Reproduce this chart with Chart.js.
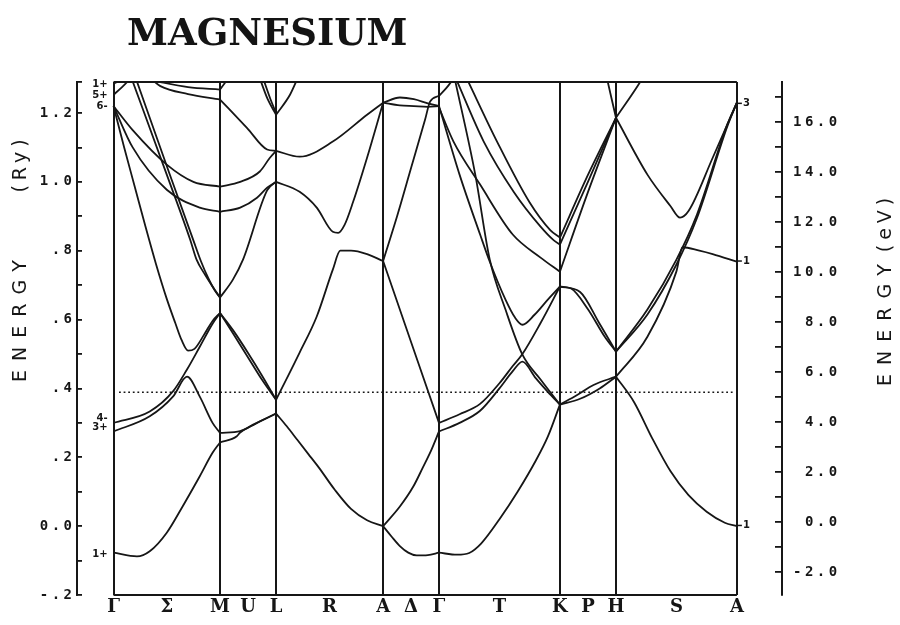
<!DOCTYPE html>
<html>
<head>
<meta charset="utf-8">
<title>Magnesium band structure</title>
<script src="https://cdn.jsdelivr.net/npm/chart.js@4.4.0/dist/chart.umd.min.js"></script>
<style>
  body { margin: 0; background: #fff; }
  #wrap { position: relative; width: 900px; height: 625px; }
  #title {
    position: absolute; left: 127px; top: 10px;
    font: bold 37px "DejaVu Serif"; letter-spacing: 0; color: #141414;
  }
</style>
</head>
<body>
<div id="wrap">
  <canvas id="bands" width="900" height="625"></canvas>
  <div id="title">MAGNESIUM</div>
</div>
<script>
// symmetry points along the k-path and their path distance
const symLabels = ['Γ', 'M', 'L', 'A', 'Γ', 'K', 'H', 'A'];
const symDist = [0, 0.583, 0.890, 1.476, 1.782, 2.444, 2.751, 3.413];
const lineLabels = ['Σ', 'U', 'R', 'Δ', 'T', 'P', 'S'];

const ryTicks = [-0.2, 0, 0.2, 0.4, 0.6, 0.8, 1.0, 1.2];
const ryTickText = ['-.2', '0.0', '.2', '.4', '.6', '.8', '1.0', '1.2'];
const evTicks = [-2, 0, 2, 4, 6, 8, 10, 12, 14, 16];
const evTickText = ['-2.0', ' 0.0', ' 2.0', ' 4.0', ' 6.0', ' 8.0', '10.0', '12.0', '14.0', '16.0'];

const fermiRy = 0.389;

// irreducible representations at Γ and A
const gammaStates = ['1+', '5+', '6-', '4-', '3+', '1+'];
const gammaRy = [1.282, 1.250, 1.219, 0.314, 0.288, -0.082];
const aStates = ['3', '1', '1'];
const aRy = [1.228, 0.770, 0.002];

// bands per segment: [fraction along segment, energy in Ry]
const bandsGM = [
  [[0, -0.077], [0.22, -0.088], [0.34, -0.073], [0.5, -0.019], [0.65, 0.058], [0.81, 0.145], [0.93, 0.213], [1, 0.243]],
  [[0, 0.275], [0.34, 0.319], [0.56, 0.377], [0.69, 0.434], [0.81, 0.376], [0.93, 0.30], [1, 0.271]],
  [[0, 0.30], [0.34, 0.333], [0.56, 0.392], [0.69, 0.455], [0.81, 0.521], [0.93, 0.588], [1, 0.619]],
  [[0, 1.22], [0.1, 1.10], [0.2, 0.985], [0.3, 0.87], [0.4, 0.76], [0.5, 0.66], [0.58, 0.59], [0.64, 0.54], [0.7, 0.51], [0.76, 0.515], [0.85, 0.556], [0.93, 0.596], [1, 0.619]],
  [[0.17, 1.30], [0.5, 1.021], [0.72, 0.832], [0.78, 0.774], [0.86, 0.73], [0.93, 0.696], [1, 0.664]],
  [[0.21, 1.30], [0.53, 1.02], [0.75, 0.83], [0.82, 0.77], [0.89, 0.72], [0.95, 0.685], [1, 0.664]],
  [[0, 1.22], [0.18, 1.15], [0.5, 1.05], [0.75, 1.0], [1, 0.986]],
  [[0, 1.22], [0.18, 1.10], [0.5, 0.977], [0.81, 0.925], [1, 0.913]],
  [[0.3, 1.30], [0.44, 1.29], [0.7, 1.275], [1, 1.268]],
  [[0.35, 1.30], [0.44, 1.278], [0.7, 1.255], [1, 1.239]],
  [[0, 1.253], [0.08, 1.275], [0.16, 1.30]],
  [[0, 1.285], [0.1, 1.30]]
];

const bandsML = [
  [[0, 0.243], [0.3, 0.261], [0.36, 0.272], [0.62, 0.296], [1, 0.327]],
  [[0, 0.271], [0.36, 0.276], [0.62, 0.297], [1, 0.327]],
  [[0, 0.619], [0.25, 0.555], [0.5, 0.49], [0.75, 0.425], [1, 0.367]],
  [[0, 0.619], [0.25, 0.565], [0.5, 0.503], [0.75, 0.437], [1, 0.367]],
  [[0, 0.664], [0.23, 0.716], [0.41, 0.774], [0.84, 0.975], [1, 1.0]],
  [[0, 0.986], [0.36, 1.0], [0.71, 1.03], [0.89, 1.07], [1, 1.09]],
  [[0, 0.913], [0.36, 0.925], [0.66, 0.954], [0.84, 0.983], [1, 1.0]],
  [[0, 1.239], [0.48, 1.157], [0.84, 1.094], [1, 1.09]],
  [[0, 1.268], [0.1, 1.29], [0.2, 1.31]],
  [[0.71, 1.30], [0.85, 1.24], [1, 1.195]],
  [[0.77, 1.30], [0.9, 1.24], [1, 1.2]]
];

const bandsLA = [
  [[0, 0.327], [0.1, 0.29], [0.2, 0.25], [0.3, 0.21], [0.4, 0.17], [0.55, 0.105], [0.7, 0.05], [0.85, 0.017], [1, 0.0]],
  [[0, 0.367], [0.22, 0.504], [0.38, 0.609], [0.53, 0.745], [0.6, 0.80], [0.7, 0.80], [0.85, 0.79], [1, 0.77]],
  [[0, 1.0], [0.22, 0.971], [0.38, 0.925], [0.53, 0.855], [0.58, 0.852], [0.64, 0.875], [0.72, 0.942], [0.85, 1.07], [1, 1.23]],
  [[0, 1.09], [0.22, 1.073], [0.53, 1.117], [0.85, 1.195], [1, 1.23]],
  [[0, 1.195], [0.13, 1.253], [0.2, 1.30]]
];

const bandsAG = [
  [[0, 0.0], [0.15, -0.03], [0.3, -0.058], [0.45, -0.077], [0.6, -0.085], [0.8, -0.084], [1, -0.077]],
  [[0, 0.0], [0.3, 0.057], [0.54, 0.115], [0.71, 0.17], [0.86, 0.22], [1, 0.275]],
  [[0, 0.77], [0.5, 0.535], [1, 0.30]],
  [[0, 0.77], [0.25, 0.90], [0.5, 1.04], [0.75, 1.18], [0.84, 1.233], [1, 1.25]],
  [[0, 1.23], [0.3, 1.245], [0.55, 1.24], [0.8, 1.228], [1, 1.22]],
  [[0, 1.23], [0.3, 1.222], [0.55, 1.22], [0.8, 1.218], [1, 1.22]]
];

const bandsGK = [
  [[0, -0.077], [0.15, -0.083], [0.25, -0.078], [0.35, -0.05], [0.5, 0.02], [0.65, 0.1], [0.8, 0.19], [0.9, 0.26], [1, 0.353]],
  [[0, 0.275], [0.17, 0.30], [0.34, 0.335], [0.5, 0.40], [0.61, 0.45], [0.69, 0.478], [0.8, 0.43], [0.9, 0.39], [1, 0.353]],
  [[0, 0.30], [0.17, 0.325], [0.34, 0.355], [0.5, 0.415], [0.61, 0.465], [0.69, 0.50], [0.84, 0.59], [1, 0.696]],
  [[0, 1.22], [0.17, 1.021], [0.34, 0.847], [0.42, 0.768], [0.55, 0.658], [0.63, 0.605], [0.69, 0.585], [0.79, 0.614], [0.9, 0.658], [1, 0.696]],
  [[0.13, 1.30], [0.3, 1.021], [0.42, 0.774], [0.55, 0.629], [0.69, 0.498], [0.84, 0.426], [1, 0.353]],
  [[0, 1.216], [0.12, 1.117], [0.34, 0.992], [0.61, 0.847], [0.84, 0.78], [1, 0.739]],
  [[0.14, 1.30], [0.37, 1.117], [0.62, 0.97], [0.84, 0.87], [0.95, 0.83], [1, 0.818]],
  [[0.23, 1.30], [0.48, 1.117], [0.75, 0.94], [0.92, 0.86], [1, 0.838]],
  [[0, 1.25], [0.06, 1.272], [0.12, 1.30]]
];

const bandsKH = [
  [[0, 0.353], [0.36, 0.37], [0.71, 0.40], [1, 0.434]],
  [[0, 0.353], [0.3, 0.38], [0.6, 0.41], [1, 0.434]],
  [[0, 0.696], [0.36, 0.68], [0.7, 0.59], [1, 0.507]],
  [[0, 0.696], [0.2, 0.69], [0.5, 0.63], [0.8, 0.55], [1, 0.507]],
  [[0, 0.838], [0.5, 1.02], [1, 1.186]],
  [[0, 0.818], [0.5, 1.0], [1, 1.186]],
  [[0, 0.739], [0.5, 0.97], [1, 1.186]],
  [[0.84, 1.30], [1, 1.186]]
];

const bandsHA = [
  [[0, 1.186], [0.2, 1.29], [0.25, 1.32]],
  [[0, 1.186], [0.26, 1.021], [0.45, 0.93], [0.53, 0.896], [0.6, 0.915], [0.8, 1.07], [1, 1.23]],
  [[0, 0.507], [0.26, 0.629], [0.5, 0.774], [0.67, 0.905], [0.92, 1.166], [1, 1.23]],
  [[0, 0.507], [0.26, 0.615], [0.5, 0.76], [0.67, 0.895], [0.92, 1.16], [1, 1.23]],
  [[0, 0.434], [0.26, 0.55], [0.5, 0.74], [0.55, 0.81], [0.69, 0.80], [0.8, 0.79], [1, 0.768]],
  [[0, 0.434], [0.15, 0.36], [0.3, 0.255], [0.45, 0.16], [0.6, 0.09], [0.75, 0.042], [0.9, 0.01], [1, 0.0]]
];

const segments = [bandsGM, bandsML, bandsLA, bandsAG, bandsGK, bandsKH, bandsHA];

const ink = '#161616';

const datasets = [];
segments.forEach((bands, s) => {
  const x0 = symDist[s], x1 = symDist[s + 1];
  bands.forEach(band => {
    datasets.push({
      data: band.map(([t, e]) => ({ x: x0 + t * (x1 - x0), y: e })),
      borderColor: ink,
      borderWidth: 1.8,
      pointRadius: 0,
      cubicInterpolationMode: 'monotone'
    });
  });
});

// Fermi level
datasets.push({
  data: [{ x: symDist[0] + 0.03, y: fermiRy }, { x: symDist[symDist.length - 1] - 0.01, y: fermiRy }],
  borderColor: ink,
  borderWidth: 1.6,
  borderDash: [1.8, 2.8],
  pointRadius: 0
});

// x ticks: symmetry points with the line names between them
const tickPos = [];
const tickNames = [];
symDist.forEach((d, i) => {
  tickPos.push(d);
  tickNames.push(symLabels[i]);
  if (i < lineLabels.length) {
    tickPos.push((d + symDist[i + 1]) / 2);
    tickNames.push(lineLabels[i]);
  }
});

function pickLabel(values, texts, v) {
  const i = values.findIndex(t => Math.abs(t - v) < 1e-6);
  return i < 0 ? '' : texts[i];
}

const axisFont = { family: 'DejaVu Sans Mono', weight: 'bold', size: 14 };

// wide plotter-style spacing for the axis numbers
const spacing = {
  id: 'spacing',
  beforeDraw(chart) { chart.ctx.letterSpacing = '3.5px'; },
  beforeDatasetsDraw(chart) { chart.ctx.letterSpacing = '0px'; }
};

// rotated axis titles: [text, centre x, centre y, letter spacing]
const axisTitles = [
  ['ENERGY', 21, 321, 9], ['(Ry)', 21, 166, 5],
  ['ENERGY', 886, 325, 9], ['(eV)', 886, 225, 5]
];

const decor = {
  id: 'decor',
  afterDraw(chart) {
    const { ctx, scales: { x, y } } = chart;
    const left = x.getPixelForValue(symDist[0]);
    const right = x.getPixelForValue(symDist[symDist.length - 1]);
    const top = y.getPixelForValue(y.max);
    const bottom = y.getPixelForValue(y.min);
    ctx.save();
    ctx.strokeStyle = ink;
    ctx.lineWidth = 2;
    ctx.beginPath();
    ctx.moveTo(left, top); ctx.lineTo(right, top);
    ctx.moveTo(left, bottom); ctx.lineTo(right, bottom);
    ctx.stroke();

    ctx.fillStyle = ink;
    ctx.font = 'bold 10px "DejaVu Sans"';
    ctx.textBaseline = 'middle';
    ctx.textAlign = 'right';
    gammaStates.forEach((s, i) => ctx.fillText(s, left - 6, y.getPixelForValue(gammaRy[i])));
    ctx.textAlign = 'left';
    ctx.lineWidth = 1.5;
    aStates.forEach((s, i) => {
      const py = y.getPixelForValue(aRy[i]);
      ctx.beginPath(); ctx.moveTo(right, py); ctx.lineTo(right + 5, py); ctx.stroke();
      ctx.fillText(s, right + 6, py);
    });

    ctx.font = '19px "DejaVu Sans"';
    ctx.textAlign = 'center';
    axisTitles.forEach(([txt, tx, ty, ls]) => {
      ctx.save();
      ctx.letterSpacing = ls + 'px';
      ctx.translate(tx, ty);
      ctx.rotate(-Math.PI / 2);
      ctx.fillText(txt, ls / 2, 0);
      ctx.restore();
    });
    ctx.restore();
  }
};

new Chart(document.getElementById('bands'), {
  type: 'line',
  data: { datasets },
  plugins: [spacing, decor],
  options: {
    responsive: false,
    animation: false,
    layout: { padding: { top: 82, left: 0, right: 0, bottom: 0 } },
    plugins: { legend: { display: false }, tooltip: { enabled: false } },
    scales: {
      x: {
        type: 'linear',
        min: -0.2,
        max: 3.66,
        afterBuildTicks: s => { s.ticks = tickPos.map(v => ({ value: v })); },
        afterFit: s => { s.height = 30; },
        grid: {
          color: c => (c.index % 2 === 0 ? ink : 'rgba(0,0,0,0)'),
          lineWidth: 2,
          drawTicks: false
        },
        border: { display: false },
        ticks: {
          autoSkip: false,
          maxRotation: 0,
          padding: 2,
          z: 1,
          color: ink,
          font: { family: 'DejaVu Serif', weight: 'bold', size: 18 },
          callback: (v, i) => tickNames[i]
        }
      },
      y: {
        position: 'left',
        min: -0.2,
        max: 1.29,
        afterFit: s => { s.width = 77; },
        grid: { drawOnChartArea: false, tickLength: -5, lineWidth: 1.8, color: ink },
        border: { color: ink, width: 2 },
        ticks: {
          stepSize: 0.1,
          autoSkip: false,
          padding: 6.5,
          color: ink,
          font: axisFont,
          callback: v => pickLabel(ryTicks, ryTickText, v)
        }
      },
      y2: {
        position: 'right',
        min: -2.92,
        max: 17.6,
        afterFit: s => { s.width = 118; },
        grid: { drawOnChartArea: false, tickLength: -7, lineWidth: 1.8, color: ink },
        border: { color: ink, width: 2 },
        ticks: {
          stepSize: 1,
          includeBounds: false,
          autoSkip: false,
          padding: 18,
          color: ink,
          font: axisFont,
          callback: v => pickLabel(evTicks, evTickText, v)
        }
      }
    }
  }
});
</script>
</body>
</html>
